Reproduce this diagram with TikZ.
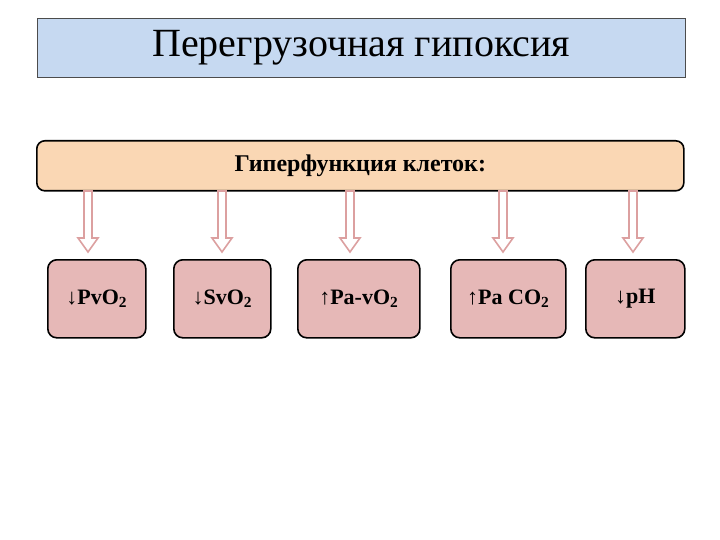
\documentclass[tikz,border=0pt]{standalone}
\usepackage{fontspec}
\setmainfont{Liberation Serif}
\usetikzlibrary{calc}
\definecolor{ttl}{RGB}{198,217,241}
\definecolor{bar}{RGB}{250,215,180}
\definecolor{bx}{RGB}{230,184,183}
\definecolor{arr}{RGB}{220,160,160}
\tikzset{
 bbox/.style={draw=black,line width=1.6pt,rounded corners=9pt,fill=bx,font=\bfseries\fontsize{22}{26}\selectfont},
 harrow/.style={draw=arr,fill=white,line width=1.6pt,line join=miter}
}
\begin{document}
\begin{tikzpicture}[x=1pt,y=-1pt]
\useasboundingbox (0,0) rectangle (720,540);
\node[draw=black!70,fill=ttl,minimum width=648,minimum height=59,inner sep=0,anchor=north west,font=\fontsize{40}{46}\selectfont] (title) at (37,18) {Перегрузочная гипоксия};
\node[draw=black,line width=1.6pt,rounded corners=8pt,fill=bar,minimum width=647,minimum height=50,inner sep=0,anchor=north west,font=\bfseries\fontsize{24}{28}\selectfont] (bar) at (36,140) {Гиперфункция клеток:};
\node[bbox,minimum width=98,minimum height=78,anchor=north west] (b1) at (47,259) {↓PvO\textsubscript{2}};
\node[bbox,minimum width=97,minimum height=78,anchor=north west] (b2) at (173,259) {↓SvO\textsubscript{2}};
\node[bbox,minimum width=122,minimum height=78,anchor=north west] (b3) at (297,259) {↑Pa-vO\textsubscript{2}};
\node[bbox,minimum width=115,minimum height=78,anchor=north west] (b4) at (450,259) {↑Pa CO\textsubscript{2}};
\node[bbox,minimum width=99,minimum height=78,anchor=north west] (b5) at (585,259) {↓pH};
\foreach \b/\x in {b1/88,b2/222,b3/350,b4/503,b5/633}{
 \draw[harrow] (\x-4,191) -- (\x+4,191) -- (\x+4,238) -- (\x+10,238) -- (\x,252) -- (\x-10,238) -- (\x-4,238) -- cycle;
}
\end{tikzpicture}
\end{document}
